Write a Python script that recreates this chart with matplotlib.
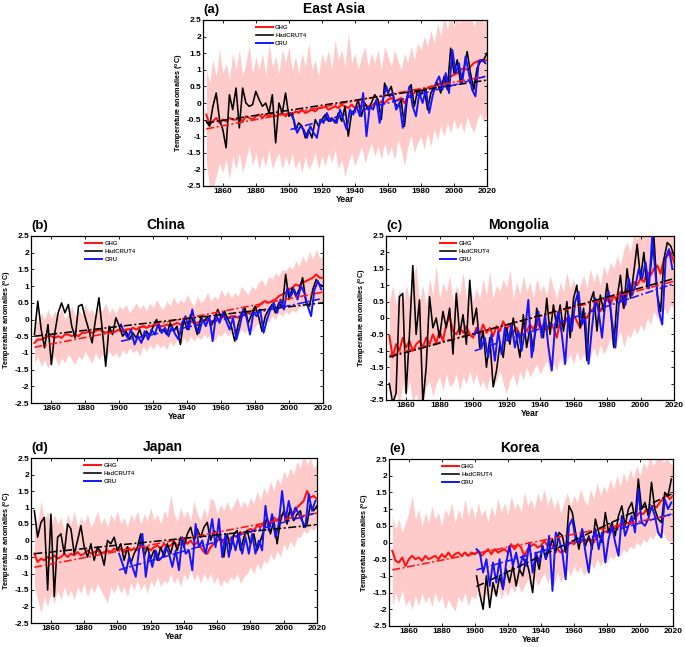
import numpy as np
import matplotlib
matplotlib.use("Agg")
import matplotlib.pyplot as plt

plt.rcParams['font.family'] = ['Liberation Sans', 'DejaVu Sans']
plt.rcParams['font.weight'] = 'bold'
plt.rcParams['mathtext.fontset'] = 'custom'
plt.rcParams['mathtext.rm'] = 'Liberation Sans'
plt.rcParams['mathtext.bf'] = 'Liberation Sans:bold'

# ---------------- data ----------------
YEARS = np.arange(1850, 2021, 2)          # 86 values
YEARS_CRU = np.arange(1901, 2020, 2)      # 60 values
X_TICKS = [1860, 1880, 1900, 1920, 1940, 1960, 1980, 2000, 2020]
Y_TICKS = [-2.5, -2, -1.5, -1, -0.5, 0, 0.5, 1, 1.5, 2, 2.5]
Y_TICK_LABELS = ['-2.5', '-2', '-1.5', '-1', '-0.5', '0', '0.5', '1', '1.5', '2', '2.5']
SERIES_NAMES = ['GHG', 'HadCRUT4', 'CRU']
PANEL_TAGS = ['(a)', '(b)', '(c)', '(d)', '(e)']
PANEL_TITLES = ['East Asia', 'China', 'Mongolia', 'Japan', 'Korea']

# linear trend lines: start value, end value
# order: GHG (1850-2020), HadCRUT4 (1850-2020; Korea 1901-2019), CRU (1901-2019)
EA_TREND = [-0.78, 0.81, -0.6, 0.69, -0.8, 0.8]
CN_TREND = [-0.83, 0.82, -0.5, 0.5, -0.65, 0.62]
MN_TREND = [-1.14, 1.12, -1.19, 1.2, -1.0, 1.03]
JP_TREND = [-0.81, 0.83, -0.4, 0.48, -0.89, 0.83]
KR_TREND = [-0.82, 0.83, -1.32, 1.45, -0.82, 0.85]

# East Asia
EA_GHG = [-0.35, -0.65, -0.55, -0.45, -0.6, -0.5, -0.55, -0.45, -0.5, -0.5,
          -0.45, -0.55, -0.4, -0.45, -0.5, -0.4, -0.35, -0.45, -0.35, -0.4,
          -0.3, -0.4, -0.35, -0.3, -0.4, -0.3, -0.35, -0.25, -0.3, -0.2,
          -0.3, -0.25, -0.2, -0.25, -0.15, -0.15, -0.1, -0.2, -0.15, -0.1,
          -0.15, -0.05, -0.1, -0.15, -0.05, -0.15, -0.1, -0.1, -0.05, -0.1,
          -0.1, 0.0, -0.05, 0.05, 0.0, 0.1, 0.15, 0.05, 0.1, 0.15,
          0.0, 0.2, 0.25, 0.3, 0.35, 0.35, 0.4, 0.45, 0.5, 0.5,
          0.55, 0.6, 0.7, 0.75, 0.8, 0.85, 0.9, 1.0, 1.05, 1.0,
          1.1, 1.2, 1.25, 1.3, 1.25, 1.3]
EA_HAD = [-0.55, -0.7, -0.1, 0.3, -0.5, -0.8, -1.35, 0.25, -0.2, 0.45,
          -0.75, 0.45, 0.0, -0.1, -0.05, 0.35, 0.1, -0.1, 0.0, -0.3,
          0.25, -1.2, 0.0, -0.3, 0.3, -0.4, -0.3, -0.8, -0.6, -0.7,
          -1.05, -0.8, -1.05, -0.5, -0.7, -0.5, -0.35, -0.55, -0.45, -0.6,
          -0.3, -0.55, -0.1, -1.0, -0.3, -0.2, 0.1, -0.4, 0.0, -0.2,
          0.0, 0.25, 0.1, -0.5, 0.6, 0.3, 0.5, 0.0, -0.1, 0.1,
          -0.7, 0.3, 0.55, -0.1, 0.4, 0.25, 0.45, -0.2, 0.3, 0.5,
          0.6, 0.3, 0.8, 0.4, 1.65, 0.9, 1.3, 0.6, 1.0, 1.55,
          0.9, 0.4, 1.05, 1.25, 1.3, 1.5]
EA_CRU = [-0.3, -0.5, -0.9, -0.7, -0.8, -1.05, -0.7, -0.9, -1.05, -0.5,
          -0.6, -0.3, -0.55, -0.5, -0.6, -0.2, -0.5, -0.8, -0.2, -0.35,
          -0.1, -0.4, 0.3, -1.0, -0.1, -0.2, 0.1, -0.6, 0.1, 0.5,
          0.2, 0.3, -0.2, 0.0, -0.75, 0.0, 0.5, -0.1, -0.4, 0.3,
          0.0, 0.4, -0.3, 0.2, 0.6, 0.8, 0.4, 0.9, 0.3, 1.6,
          0.9, 1.2, 0.6, 1.4, 0.9, 0.4, 0.2, 1.25, 1.3, 1.2]
EA_UP = [1.0, 0.6, 1.3, 0.8, 1.6, 0.9, 1.2, 0.7, 1.5, 1.0,
         1.6, 0.8, 1.2, 1.75, 0.9, 1.4, 1.0, 1.5, 0.8, 1.8,
         1.1, 1.4, 0.9, 1.6, 1.2, 1.7, 1.0, 1.4, 0.9, 1.5,
         1.1, 1.8, 1.0, 1.3, 0.8, 1.5, 1.2, 1.6, 1.0, 1.9,
         1.3, 1.6, 1.1, 2.1, 1.2, 1.5, 1.0, 1.4, 1.7, 1.1,
         1.5, 1.2, 1.6, 1.0, 1.7, 1.4, 1.1, 1.6, 1.3, 1.0,
         1.5, 1.2, 1.7, 1.3, 1.8, 1.6, 2.0, 1.7, 2.2, 1.8,
         2.4, 2.0, 2.6, 2.2, 2.7, 2.3, 2.8, 2.4, 2.9, 2.5,
         2.7, 2.3, 2.6, 2.8, 2.4, 2.6]
EA_LO = [-1.8, -2.5, -2.6, -2.2, -1.8, -2.1, -1.7, -2.3, -1.6, -2.0,
         -1.5, -2.1, -1.7, -1.3, -1.9, -1.5, -2.0, -1.6, -1.9, -1.4,
         -2.0, -1.7, -1.5, -2.0, -1.6, -1.9, -1.5, -2.0, -1.7, -2.1,
         -1.6, -2.0, -1.8, -1.5, -2.0, -1.6, -1.9, -1.5, -1.8, -1.4,
         -2.0, -1.7, -2.2, -1.8, -1.5, -1.9, -1.6, -1.3, -1.8, -1.5,
         -1.2, -1.6, -1.3, -1.7, -1.2, -1.6, -1.3, -1.7, -1.1, -1.4,
         -1.9, -1.3, -1.0, -1.5, -1.2, -1.0, -1.4, -0.9, -1.3, -0.8,
         -1.1, -0.7, -1.0, -0.6, -0.9, -0.5, -0.8, -0.6, -0.9, -0.4,
         -0.7, -0.9, -0.5, -0.3, -0.6, -0.3]

# China
CN_GHG = [-0.7, -0.6, -0.6, -0.55, -0.5, -0.5, -0.55, -0.5, -0.55, -0.45,
          -0.45, -0.5, -0.45, -0.5, -0.4, -0.4, -0.35, -0.4, -0.35, -0.3,
          -0.35, -0.4, -0.35, -0.4, -0.35, -0.3, -0.35, -0.3, -0.3, -0.25,
          -0.3, -0.25, -0.2, -0.25, -0.2, -0.2, -0.15, -0.2, -0.2, -0.15,
          -0.2, -0.15, -0.1, -0.15, -0.1, -0.1, -0.05, -0.1, -0.1, -0.05,
          -0.05, 0.0, -0.05, -0.05, 0.0, 0.05, 0.1, 0.05, 0.1, 0.1,
          0.05, 0.1, 0.15, 0.2, 0.25, 0.35, 0.4, 0.5, 0.55, 0.5,
          0.55, 0.6, 0.7, 0.75, 0.8, 0.9, 0.95, 1.05, 1.0, 1.1,
          1.15, 1.2, 1.25, 1.35, 1.25, 1.25]
CN_HAD = [-0.45, 0.55, -0.3, -0.85, -0.15, -1.35, -0.4, 0.2, 0.5, 0.2,
          0.45, -0.2, -0.55, 0.4, 0.45, 0.05, -0.3, -0.7, 0.0, 0.65,
          -0.3, -1.4, -0.2, -0.45, 0.05, -0.2, -0.5, -0.35, -0.6, -0.4,
          -0.55, -0.3, -0.6, -0.35, -0.5, -0.2, 0.0, -0.35, -0.3, -0.45,
          -0.1, -0.35, -0.2, -0.75, 0.0, -0.3, 0.15, -0.1, -0.45, 0.05,
          -0.05, 0.1, -0.2, 0.0, 0.3, 0.05, 0.25, 0.0, -0.2, -0.65,
          -0.15, 0.2, 0.35, -0.1, 0.15, 0.4, 0.1, -0.35, 0.1, 0.3,
          0.45, 0.2, 0.5, 0.35, 1.35, 0.6, 0.95, 0.7, 0.9, 1.25,
          0.5, 0.4, 0.9, 1.2, 1.05, 1.0]
CN_CRU = [-0.15, -0.4, -0.55, -0.3, -0.75, -0.5, -0.7, -0.35, -0.6, -0.3,
          -0.45, -0.1, -0.4, -0.25, -0.5, -0.2, -0.45, -0.6, -0.1, 0.1,
          -0.3, 0.3, -0.2, -0.4, 0.0, -0.2, 0.1, -0.65, 0.15, -0.1,
          0.2, -0.05, -0.3, 0.05, -0.6, -0.2, 0.3, 0.05, -0.45, 0.2,
          0.1, 0.3, -0.4, 0.0, 0.3, 0.5, 0.2, 0.6, 0.3, 0.95,
          0.7, 0.9, 0.6, 1.0, 0.8, 0.4, 0.1, 0.9, 1.15, 0.9]
CN_UP = [0.1, -0.1, 0.2, 0.0, 0.3, 0.05, 0.25, 0.1, 0.35, 0.0,
         0.2, 0.4, 0.1, 0.3, 0.15, 0.45, 0.2, 0.3, 0.1, 0.4,
         0.25, 0.5, 0.2, 0.35, 0.15, 0.4, 0.3, 0.45, 0.2, 0.35,
         0.5, 0.3, 0.45, 0.25, 0.5, 0.35, 0.6, 0.4, 0.3, 0.55,
         0.4, 0.7, 0.45, 0.6, 0.5, 0.75, 0.55, 0.4, 0.7, 0.5,
         0.6, 0.8, 0.55, 0.7, 0.6, 0.9, 0.7, 0.85, 0.65, 0.8,
         0.7, 1.0, 0.85, 0.75, 1.0, 0.9, 1.1, 1.2, 1.0, 1.3,
         1.2, 1.4, 1.3, 1.5, 1.45, 1.6, 1.5, 1.75, 1.6, 1.9,
         1.7, 2.05, 1.8, 2.1, 1.85, 1.9]
CN_LO = [-1.3, -1.1, -1.4, -1.2, -1.45, -1.25, -1.1, -1.4, -1.15, -1.3,
         -1.05, -1.2, -1.35, -1.1, -1.2, -0.95, -1.15, -1.3, -1.0, -1.2,
         -1.05, -1.25, -0.95, -1.1, -1.0, -1.15, -0.9, -1.05, -0.85, -1.0,
         -0.9, -1.1, -0.8, -0.95, -0.75, -0.9, -0.7, -0.85, -0.75, -0.9,
         -0.65, -0.8, -0.6, -0.75, -0.55, -0.7, -0.5, -0.65, -0.5, -0.6,
         -0.45, -0.55, -0.4, -0.65, -0.45, -0.5, -0.35, -0.5, -0.4, -0.55,
         -0.45, -0.3, -0.4, -0.25, -0.35, -0.2, -0.1, -0.25, 0.0, -0.1,
         0.1, 0.0, 0.2, 0.1, 0.25, 0.15, 0.3, 0.2, 0.4, 0.35,
         0.45, 0.3, 0.5, 0.6, 0.45, 0.55]

# Mongolia
MN_GHG = [-0.55, -1.2, -0.8, -1.0, -0.6, -0.9, -0.7, -1.0, -0.8, -0.7,
          -0.9, -0.6, -0.8, -0.5, -0.75, -0.4, -0.7, -0.2, 0.05, -0.4,
          -0.5, -0.3, -0.45, -0.25, -0.5, -0.6, -0.3, -0.5, -0.2, -0.45,
          -0.3, -0.55, -0.25, -0.4, -0.1, -0.35, -0.2, -0.45, -0.3, -0.6,
          -0.25, -0.4, -0.2, -0.35, -0.1, -0.3, -0.2, -0.4, -0.15, -0.3,
          -0.6, -0.1, -0.3, 0.0, -0.2, 0.1, -0.1, -0.3, 0.1, 0.0,
          0.2, 0.3, 0.5, 0.2, 0.4, 0.6, 0.4, 0.7, 0.5, 0.8,
          0.3, 0.9, 0.7, 1.1, 1.0, 1.2, 1.1, 1.4, 1.3, 1.5,
          1.6, 1.35, 1.8, 1.9, 2.0, 1.7]
MN_HAD = [-2.0, -2.6, -2.3, 0.65, 0.75, -2.3, -0.5, 1.6, -0.5, 0.55,
          -2.6, -1.5, 0.65, -0.3, 0.0, -0.6, 0.2, -0.3, 0.3, -1.1,
          0.75, -0.5, 0.1, -0.8, 1.15, -0.2, 0.3, -0.9, -0.4, -1.5,
          -0.6, -2.1, -1.6, -0.8, -1.2, -0.3, -0.8, 0.0, -0.6, -1.2,
          0.1, -0.9, -0.3, -1.0, 0.3, -0.2, -0.6, 0.6, -0.5, 0.4,
          -0.3, 0.4, -0.4, 0.5, -0.6, 0.6, 1.0, -0.3, 0.3, -1.3,
          0.5, 0.8, -0.4, 0.7, 0.2, 1.05, 0.3, -0.9, 0.6, 1.3,
          0.3, 1.5, 0.6, 1.4, 2.25, 1.2, 2.0, 0.9, 1.5, 2.5,
          0.7, 0.2, 1.8, 2.3, 2.2, 1.9]
MN_CRU = [-0.5, -0.3, -0.9, -0.6, -1.2, -0.5, -1.3, -0.4, -1.1, -0.3,
          -0.7, -0.2, -0.9, -0.4, -1.0, -0.4, 0.55, -1.2, -0.5, 0.2,
          -0.6, 0.1, -0.9, -1.6, -0.2, 0.2, -0.5, -1.4, 0.1, -0.4,
          0.5, 0.8, -0.2, 0.0, -1.4, -0.3, 0.6, 0.2, -0.6, 0.5,
          0.8, -0.1, -0.9, 0.4, 0.8, 0.4, 1.2, 0.7, 1.0, 1.5,
          1.2, 1.7, 0.9, 2.5, 1.3, 0.2, -0.2, 1.8, 2.1, 1.5]
MN_UP = [0.5, 1.0, 0.4, 0.9, 0.3, 1.0, 0.6, 1.3, 1.6, 0.5,
         1.0, 0.4, 1.2, 0.7, 1.6, 0.6, 1.1, 0.8, 1.3, 0.5,
         1.0, 0.7, 1.4, 0.6, 1.1, 0.5, 0.9, 0.6, 1.2, 0.7,
         1.4, 0.6, 1.0, 0.8, 1.2, 0.9, 1.5, 0.6, 1.1, 0.7,
         1.3, 0.8, 1.1, 0.6, 1.2, 0.8, 1.0, 0.7, 1.3, 0.9,
         0.6, 1.1, 0.8, 1.4, 0.9, 1.2, 0.8, 1.0, 1.3, 0.9,
         1.5, 1.1, 1.4, 1.0, 1.6, 1.3, 1.7, 1.5, 1.9, 1.6,
         2.1, 2.3, 2.0, 2.6, 2.4, 2.7, 2.5, 2.8, 2.6, 2.9,
         2.7, 2.6, 2.8, 2.7, 2.6, 2.5]
MN_LO = [-2.1, -2.6, -2.2, -2.7, -2.0, -2.4, -1.9, -2.6, -2.3, -2.7,
         -2.6, -2.1, -1.9, -2.4, -2.0, -1.8, -2.2, -1.7, -2.1, -2.0,
         -1.7, -2.2, -1.8, -2.0, -1.6, -2.0, -1.7, -2.1, -1.9, -2.2,
         -1.8, -2.1, -1.9, -1.6, -2.0, -2.3, -1.9, -1.7, -2.1, -1.6,
         -1.9, -1.5, -1.8, -1.6, -1.4, -1.7, -1.5, -1.3, -1.7, -1.4,
         -1.6, -1.2, -1.5, -1.3, -1.1, -1.4, -1.0, -1.3, -1.1, -1.4,
         -1.2, -0.9, -1.2, -0.8, -1.1, -0.9, -0.6, -1.0, -0.7, -0.4,
         -0.9, -0.5, -0.6, -0.3, -0.5, -0.2, -0.4, 0.0, -0.2, 0.2,
         0.0, -0.2, 0.3, 0.1, 0.4, 0.3]

# Japan
JP_GHG = [-0.4, -0.65, -0.55, -0.6, -0.5, -0.55, -0.45, -0.55, -0.5, -0.4,
          -0.5, -0.4, -0.45, -0.35, -0.45, -0.4, -0.3, -0.4, -0.35, -0.3,
          -0.4, -0.35, -0.3, -0.35, -0.25, -0.3, -0.25, -0.35, -0.2, -0.3,
          -0.25, -0.3, -0.15, -0.25, -0.2, -0.3, -0.2, -0.15, -0.25, -0.1,
          -0.2, -0.15, -0.05, -0.15, -0.1, 0.05, -0.1, 0.0, -0.15, -0.05,
          -0.2, -0.35, -0.4, -0.2, -0.1, 0.0, 0.05, -0.1, 0.1, 0.0,
          0.15, 0.1, 0.25, 0.2, 0.3, 0.35, 0.3, 0.45, 0.4, 0.55,
          0.6, 0.5, 0.7, 0.6, 0.75, 0.8, 0.7, 0.9, 0.8, 1.0,
          1.1, 1.2, 1.5, 1.3, 1.35, 1.25]
JP_HAD = [0.9, 0.1, 0.55, 0.7, -1.5, 0.8, -1.7, 0.1, 0.2, -0.4,
          0.5, 0.35, -0.4, 0.0, 0.45, -0.2, -0.5, -0.1, -0.6, -0.2,
          -0.35, -0.75, 0.0, -0.1, 0.1, -0.3, -0.1, -0.6, -0.2, -0.7,
          -0.4, -0.2, 0.2, -0.5, -0.2, -0.55, -0.3, -0.6, -0.2, -0.5,
          -0.1, -0.4, 0.0, -0.3, 0.1, -0.2, 0.2, 0.4, 0.0, 0.35,
          0.1, 0.4, 0.55, 0.0, 0.3, 0.2, 0.0, -0.5, 0.2, -0.3,
          0.2, 0.3, -0.3, 0.1, 0.3, -0.1, 0.2, -0.3, 0.0, 0.3,
          0.7, 0.2, 0.6, -0.1, 0.6, 0.9, 0.5, 1.0, 0.6, 0.8,
          0.9, 0.4, 0.5, 1.1, 0.9, 1.05]
JP_CRU = [-0.4, -0.7, -1.0, -0.5, -0.8, -1.1, -0.3, 0.2, -1.1, -0.4,
          -0.8, -0.3, -0.6, -0.5, -0.2, -0.4, -0.8, -0.3, -0.9, 0.1,
          -0.4, -0.3, -0.9, 0.5, -0.2, 0.0, -0.4, 0.1, 0.65, -0.2,
          0.65, -0.5, 0.2, -0.5, 0.1, -0.3, 0.2, -0.4, 0.1, -0.4,
          0.2, -0.4, 0.0, -0.3, 1.05, 0.3, 0.8, 0.1, 0.5, 1.5,
          0.6, 1.2, 0.7, 1.0, 0.8, 0.6, 0.4, 1.4, 0.9, 1.2]
JP_UP = [0.9, 0.5, 1.2, 0.6, 0.9, 0.4, 0.8, 0.5, 0.7, 0.3,
         0.8, 0.5, 0.9, 0.4, 0.7, 0.5, 0.8, 0.4, 0.6, 0.9,
         0.5, 0.7, 0.4, 0.8, 0.6, 0.9, 0.5, 0.7, 0.4, 0.8,
         0.6, 0.9, 0.5, 0.8, 0.6, 1.0, 0.6, 0.8, 0.5, 0.9,
         0.7, 1.4, 0.8, 0.6, 1.0, 0.7, 0.9, 0.6, 1.2, 0.8,
         0.6, 1.0, 0.7, 1.3, 1.2, 0.8, 1.1, 0.9, 1.2, 0.9,
         1.1, 1.3, 1.0, 1.2, 1.0, 1.3, 1.1, 1.5, 1.2, 1.6,
         1.4, 1.8, 1.5, 1.9, 1.7, 2.1, 1.9, 2.2, 2.0, 2.4,
         2.2, 2.6, 2.3, 2.5, 2.2, 2.3]
JP_LO = [-1.4, -1.8, -2.2, -1.7, -2.0, -1.6, -1.9, -1.5, -1.8, -1.4,
         -1.7, -1.5, -1.8, -1.4, -1.6, -1.3, -1.7, -1.4, -1.6, -1.3,
         -1.5, -1.7, -1.9, -1.4, -1.6, -1.3, -1.6, -1.4, -1.7, -1.3,
         -1.5, -1.2, -1.5, -1.3, -1.6, -1.2, -1.4, -1.1, -1.4, -1.2,
         -1.3, -1.0, -1.3, -1.1, -1.4, -1.0, -1.2, -0.9, -1.2, -1.0,
         -1.3, -1.0, -1.2, -1.0, -1.3, -1.1, -1.4, -1.2, -1.3, -1.1,
         -1.2, -1.0, -1.3, -1.1, -1.0, -0.8, -1.0, -0.7, -0.9, -0.6,
         -0.7, -0.4, -0.6, -0.3, -0.5, -0.1, -0.3, 0.0, -0.2, 0.1,
         0.1, 0.3, 0.2, 0.4, 0.3, 0.5]

# Korea
KR_GHG = [-0.25, -0.55, -0.6, -0.45, -0.7, -0.5, -0.4, -0.5, -0.45, -0.55,
          -0.4, -0.5, -0.45, -0.4, -0.5, -0.35, -0.45, -0.3, -0.45, -0.35,
          -0.3, -0.4, -0.3, -0.4, -0.3, -0.35, -0.25, -0.4, -0.3, -0.2,
          -0.35, -0.2, -0.3, -0.25, -0.2, -0.3, -0.05, -0.2, -0.05, -0.15,
          -0.4, -0.2, -0.1, -0.05, -0.15, -0.1, 0.05, -0.1, -0.05, -0.15,
          -0.2, -0.3, -0.25, -0.1, 0.0, -0.05, 0.05, 0.0, 0.1, 0.05,
          0.1, 0.0, 0.2, 0.15, 0.3, 0.35, 0.3, 0.45, 0.4, 0.55,
          0.5, 0.6, 0.55, 0.7, 0.8, 0.9, 0.85, 1.0, 0.95, 1.1,
          1.05, 1.2, 1.3, 1.45, 1.3, 1.4]
KR_HAD = [-1.0, -1.55, -2.0, -1.0, -1.95, -1.2, -1.6, -1.0, -1.4, -0.8,
          -1.2, -0.7, -1.3, -0.8, -1.0, -0.5, -0.9, -1.5, -0.4, -0.8,
          -0.1, -0.5, -0.2, 0.1, -0.3, 0.3, 0.2, -0.3, 1.1, 0.9,
          0.3, -0.2, 0.4, -0.1, 0.2, -0.2, 0.7, 0.3, 0.0, 0.9,
          0.3, 0.6, 0.2, 0.8, 1.1, 0.5, 1.0, 1.2, 0.7, 1.9,
          1.0, 1.2, 0.8, 1.8, 1.0, 0.7, 0.6, 1.5, 1.4, 1.9]
KR_CRU = [-0.2, -0.3, -0.9, -0.5, -1.3, -0.6, -1.2, -0.5, -1.4, -0.6,
          -0.1, -0.7, -0.3, -0.8, -0.4, -0.7, 0.0, -0.9, -0.3, -0.6,
          -0.1, -0.5, 0.2, -1.45, 0.3, 0.1, -0.3, -1.1, 0.5, 0.7,
          0.1, 0.0, 0.4, -0.3, -0.9, 0.0, 0.4, -0.2, 0.3, -0.6,
          0.1, 0.5, 0.0, -0.4, 0.8, 0.2, 0.5, 0.8, 0.3, 1.6,
          0.6, 0.5, 0.7, 1.1, 0.8, 0.3, 0.15, 1.3, 1.0, 1.2]
KR_UP = [0.8, 0.4, 0.7, 0.3, 0.6, 0.9, 1.4, 0.7, 1.0, 0.5,
         0.9, 0.6, 1.1, 0.7, 0.9, 0.5, 1.0, 0.8, 1.2, 0.6,
         1.0, 0.7, 1.3, 0.8, 1.1, 0.7, 1.2, 0.8, 1.0, 0.6,
         1.1, 0.8, 1.3, 0.9, 1.2, 0.8, 1.4, 1.0, 1.2, 0.9,
         1.5, 1.1, 1.3, 1.0, 1.5, 1.2, 1.6, 1.1, 1.4, 1.0,
         1.3, 0.9, 1.2, 1.5, 1.1, 1.4, 1.2, 1.6, 1.3, 1.1,
         1.6, 1.3, 1.8, 1.4, 1.7, 1.5, 1.9, 1.6, 2.0, 1.7,
         2.1, 1.8, 2.2, 1.9, 2.3, 2.0, 2.4, 2.2, 2.6, 2.3,
         2.5, 2.7, 2.4, 2.5, 2.4, 2.3]
KR_LO = [-1.9, -1.5, -1.8, -1.4, -1.9, -1.7, -2.0, -1.6, -1.9, -1.5,
         -1.8, -1.6, -1.9, -1.5, -1.8, -1.6, -2.0, -1.7, -1.9, -2.05,
         -1.6, -1.8, -1.5, -1.9, -1.6, -1.7, -1.4, -1.8, -1.5, -1.7,
         -1.4, -1.6, -1.3, -1.7, -1.4, -1.6, -1.3, -1.5, -1.2, -1.5,
         -1.3, -1.1, -1.4, -1.0, -1.3, -1.1, -0.9, -1.2, -1.0, -1.3,
         -0.9, -1.2, -1.0, -0.8, -1.0, -0.7, -0.9, -0.7, -1.0, -0.8,
         -0.6, -0.8, -0.5, -0.7, -0.5, -0.6, -0.4, -0.5, -0.3, -0.4,
         -0.2, -0.3, -0.1, -0.2, 0.0, -0.1, 0.1, 0.0, 0.2, 0.1,
         0.3, 0.15, 0.3, 0.1, 0.0, 0.1]

# ---------------- styling ----------------
W, H, DPI = 6.85, 6.47, 100
PINK = '#ffcaca'
RED = '#ff1414'
BLACK = '#000000'
BLUE = '#1414ff'
TREND_DASH = (0, (5, 1.6, 1.2, 1.6))

# axes rectangles in pixels: left, top, right, bottom
BOXES_PX = [(203, 20, 487, 186),
            (31, 236, 323, 403),
            (386, 236, 674, 400),
            (31, 458, 317, 623),
            (389, 459, 673, 626)]

fig = plt.figure(figsize=(W, H), dpi=DPI)
Wpx, Hpx = W * DPI, H * DPI

panels = [
    (EA_GHG, EA_HAD, YEARS, EA_CRU, EA_UP, EA_LO, EA_TREND),
    (CN_GHG, CN_HAD, YEARS, CN_CRU, CN_UP, CN_LO, CN_TREND),
    (MN_GHG, MN_HAD, YEARS, MN_CRU, MN_UP, MN_LO, MN_TREND),
    (JP_GHG, JP_HAD, YEARS, JP_CRU, JP_UP, JP_LO, JP_TREND),
    (KR_GHG, KR_HAD, YEARS_CRU, KR_CRU, KR_UP, KR_LO, KR_TREND),
]


def trend(ax, x, v0, v1, color):
    xx = [x[0], x[-1]]
    ax.plot(xx, [v0, v1], color=color, lw=1.15, linestyle=TREND_DASH, zorder=6)


for i, (ghg, had, had_years, cru, up, lo, tr) in enumerate(panels):
    l, t, r, b = BOXES_PX[i]
    ax = fig.add_axes([l / Wpx, 1 - b / Hpx, (r - l) / Wpx, (b - t) / Hpx])
    ax.fill_between(YEARS, lo, up, color=PINK, lw=0, zorder=1)
    h1, = ax.plot(YEARS, ghg, color=RED, lw=1.5, zorder=3, label=SERIES_NAMES[0])
    h2, = ax.plot(had_years, had, color=BLACK, lw=1.15, zorder=4, label=SERIES_NAMES[1])
    h3, = ax.plot(YEARS_CRU, cru, color=BLUE, lw=1.4, zorder=5, label=SERIES_NAMES[2])
    trend(ax, YEARS, tr[0], tr[1], RED)
    trend(ax, had_years, tr[2], tr[3], BLACK)
    trend(ax, YEARS_CRU, tr[4], tr[5], BLUE)

    ax.set_xlim(1848, 2020)
    ax.set_ylim(-2.5, 2.5)
    ax.set_xticks(X_TICKS)
    ax.set_xticklabels([str(v) for v in X_TICKS])
    ax.set_yticks(Y_TICKS)
    ax.set_yticklabels(Y_TICK_LABELS)
    ax.tick_params(direction='in', top=True, right=True, length=2.5, width=0.6,
                   labelsize=6.0, pad=1.5)
    for lab in ax.get_xticklabels() + ax.get_yticklabels():
        lab.set_fontweight('bold')
    for sp in ax.spines.values():
        sp.set_linewidth(0.9)
    ax.set_xlabel('Year', fontsize=6.2, fontweight='bold', labelpad=0)
    ax.set_ylabel(r'Temperature anomalies ($^{\bf o}$C)', fontsize=5.2,
                  fontweight='bold', labelpad=0.5)
    ax.text(0.0, 1.025, PANEL_TAGS[i], transform=ax.transAxes, fontsize=9.5,
            fontweight='bold', ha='left', va='bottom')
    ax.text(0.46, 1.025, PANEL_TITLES[i], transform=ax.transAxes, fontsize=10,
            fontweight='bold', ha='center', va='bottom')
    leg = ax.legend(handles=[h1, h2, h3], loc='upper left',
                    bbox_to_anchor=(0.17, 1.0), frameon=False,
                    prop={'size': 4.3, 'weight': 'bold'}, handlelength=2.8,
                    handletextpad=0.4, labelspacing=0.45, borderpad=0.3)
    for txt in leg.get_texts():
        txt.set_color('#333333')

fig.savefig('out.png', dpi=DPI)
